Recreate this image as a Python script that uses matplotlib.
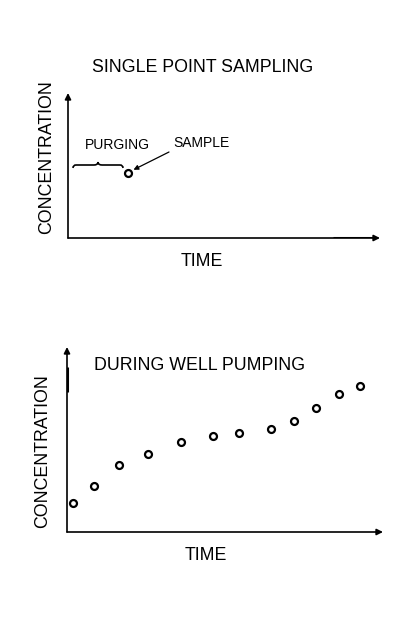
import matplotlib.pyplot as plt
from matplotlib.path import Path
from matplotlib.patches import PathPatch

plt.rcParams['font.family'] = ['Liberation Sans', 'DejaVu Sans']

# === Data (arbitrary units) ===
purge_start = 5
sample_time = 60
sample_conc = 65

pump_time = [6, 27, 52, 81, 114, 146, 172, 204, 227, 249, 272, 293]
pump_conc = [29, 46, 67, 78, 90, 96, 99, 103, 111, 124, 138, 146]

W, H = 396, 633
fig = plt.figure(figsize=(W / 100, H / 100), dpi=100)
BIG = 12.8
SMALL = 10


def px_axes(x0, y0, x1, y1):
    # axes from pixel box (top-left origin)
    return fig.add_axes([x0 / W, 1 - y1 / H, (x1 - x0) / W, (y1 - y0) / H])


def draw_axes_arrows(ax, xmax, ymax):
    ax.set_xlim(0, xmax)
    ax.set_ylim(0, ymax)
    ax.axis('off')
    kw = dict(arrowstyle='-|>', color='black', lw=1.2, mutation_scale=9,
              shrinkA=0, shrinkB=0)
    ax.annotate('', xy=(xmax, 0), xytext=(0, 0), arrowprops=kw,
                annotation_clip=False)
    ax.annotate('', xy=(0, ymax), xytext=(0, 0), arrowprops=kw,
                annotation_clip=False)


# === Top: single point sampling ===
ax1 = px_axes(68, 93, 380, 238)
draw_axes_arrows(ax1, 312, 145)
ax1.plot([265, 305], [0, 0], color='black', lw=2.2, solid_capstyle='butt')
ax1.plot([sample_time], [sample_conc], 'o', ms=5, mfc='white', mec='black', mew=1.6)

# brace over the purging interval
mid = (purge_start + sample_time - 5) / 2
bx0, bx1, by = purge_start, sample_time - 5, sample_conc + 8
verts = [(bx0, by - 3), (bx0, by), (bx0 + 3, by), (mid - 4, by), (mid, by),
         (mid, by + 3), (mid, by), (mid + 4, by), (bx1 - 3, by), (bx1, by), (bx1, by - 3)]
codes = [Path.MOVETO, Path.CURVE3, Path.CURVE3, Path.LINETO, Path.CURVE3, Path.CURVE3,
         Path.CURVE3, Path.CURVE3, Path.LINETO, Path.CURVE3, Path.CURVE3]
ax1.add_patch(PathPatch(Path(verts, codes), fill=False, lw=1.2, color='black'))

ax1.text(49, 93, 'PURGING', ha='center', va='center', fontsize=SMALL)
ax1.annotate('SAMPLE', xy=(sample_time + 3, sample_conc + 2), xytext=(105, 95),
             ha='left', va='center', fontsize=SMALL,
             arrowprops=dict(arrowstyle='-|>', color='black', lw=0.9,
                             mutation_scale=7, shrinkA=1, shrinkB=2,
                             relpos=(0, 0)))

fig.text(203 / W, 1 - 68 / H, 'SINGLE POINT SAMPLING', ha='center', va='center', fontsize=BIG)
fig.text(47 / W, 1 - 157 / H, 'CONCENTRATION', ha='center', va='center',
         rotation=90, fontsize=BIG)
fig.text(202 / W, 1 - 262 / H, 'TIME', ha='center', va='center', fontsize=BIG)

# === Bottom: during well pumping ===
ax2 = px_axes(67, 347, 383, 532)
draw_axes_arrows(ax2, 316, 185)
ax2.plot([0, 0], [140, 165], color='black', lw=2.2, solid_capstyle='butt')
ax2.plot(pump_time, pump_conc, 'o', ms=5, mfc='white', mec='black', mew=1.6,
         linestyle='none')

fig.text(200 / W, 1 - 366 / H, 'DURING WELL PUMPING', ha='center', va='center', fontsize=BIG)
fig.text(43 / W, 1 - 451 / H, 'CONCENTRATION', ha='center', va='center',
         rotation=90, fontsize=BIG)
fig.text(206 / W, 1 - 556 / H, 'TIME', ha='center', va='center', fontsize=BIG)

fig.savefig('out.png', dpi=100, facecolor='white')
